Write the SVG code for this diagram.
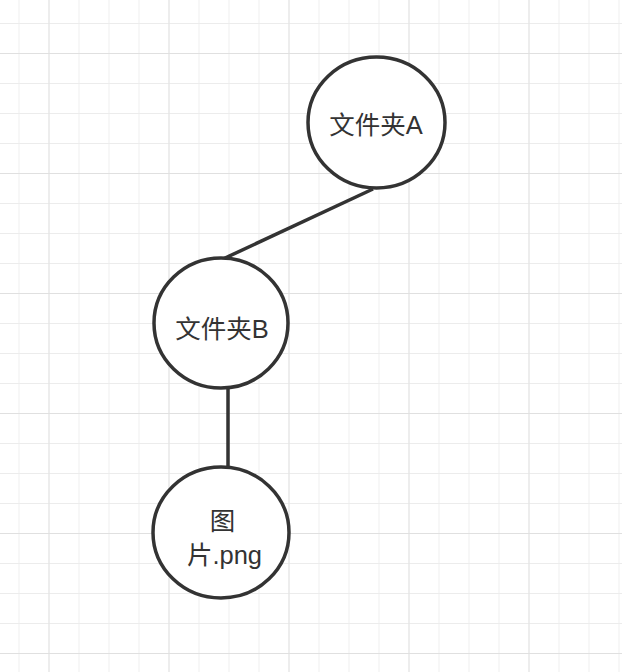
<svg xmlns="http://www.w3.org/2000/svg" width="622" height="672" viewBox="0 0 622 672">
<style>
.minor{stroke:#ececec;stroke-width:1.8;fill:none}
.major{stroke:#e0e0e0;stroke-width:1.8;fill:none}
.node{fill:#ffffff;stroke:#333333;stroke-width:3.5}
.edge{stroke:#333333;stroke-width:3.5;fill:none}
.lbl{font-family:"Liberation Sans","Noto Sans CJK SC",sans-serif;font-size:25.5px;fill:#333333;text-anchor:middle}
</style>
<defs>
<pattern id="grid" x="18.5" y="23" width="30" height="30" patternUnits="userSpaceOnUse">
<path d="M0 0V30M0 0H30" class="minor"/>
</pattern>
<pattern id="gridMajor" x="48.5" y="53" width="120" height="120" patternUnits="userSpaceOnUse">
<path d="M0 0V120M0 0H120" class="major"/>
</pattern>
</defs>
<rect width="622" height="672" fill="#ffffff"/>
<rect width="622" height="672" fill="url(#grid)"/>
<rect width="622" height="672" fill="url(#gridMajor)"/>
<g id="connectors">
<line class="edge" x1="373" y1="189" x2="223" y2="259"/>
<line class="edge" x1="228" y1="388" x2="228" y2="467"/>
</g>
<g id="nodeA">
<ellipse class="node" cx="376.5" cy="122.5" rx="68.5" ry="65.5"/>
<text class="lbl" x="376" y="133.5">文件夹A</text>
</g>
<g id="nodeB">
<ellipse class="node" cx="221" cy="323" rx="67" ry="65"/>
<text class="lbl" x="222" y="337.5">文件夹B</text>
</g>
<g id="nodeC">
<ellipse class="node" cx="221" cy="532.5" rx="68" ry="65.5"/>
<text class="lbl" x="222.5" y="530">图</text>
<text class="lbl" x="224.5" y="563.5">片.png</text>
</g>
</svg>
